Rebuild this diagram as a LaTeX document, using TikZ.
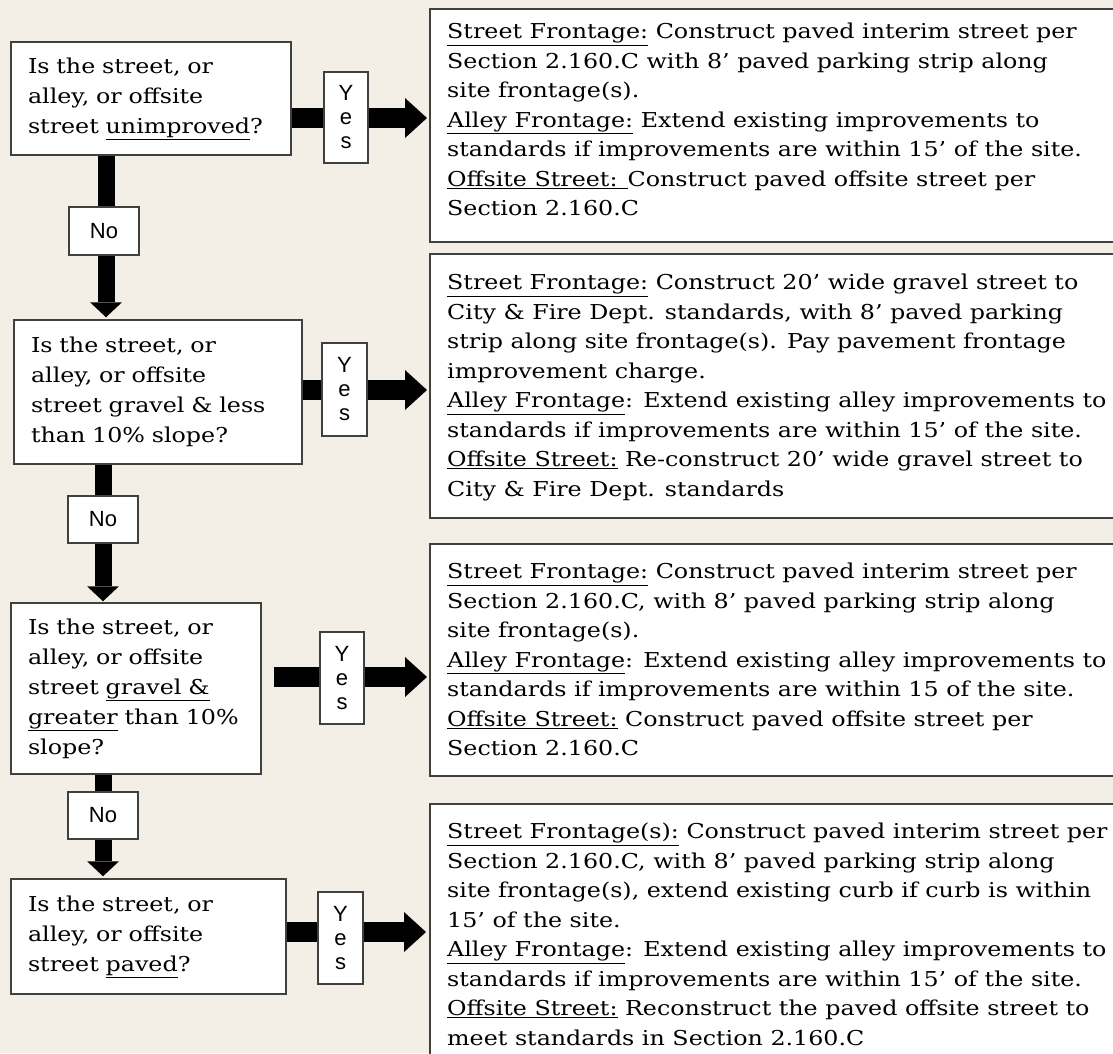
\documentclass[tikz,border=0pt]{standalone}
\usepackage{fontspec}
\usetikzlibrary{arrows.meta}
\newfontfamily\qfont[FakeStretch=1.16]{DejaVu Serif}
\newfontfamily\lfont{Liberation Sans}
\definecolor{bg}{HTML}{F3EEE6}
\definecolor{edge}{HTML}{404040}
\begin{document}
\begin{tikzpicture}[x=1pt,y=-1pt,
 qbox/.style={draw=edge, line width=1.5pt, fill=white, rectangle, align=left, inner xsep=17pt, font=\qfont\fontsize{20.5}{30}\selectfont},
 rbox/.style={draw=edge, line width=1.6pt, fill=white, rectangle, anchor=north west, inner sep=0pt},
 rtext/.style={anchor=north west, inner sep=0pt, align=left, font=\qfont\fontsize{20.5}{29.5}\selectfont},
 lbl/.style={draw=edge, line width=1.2pt, fill=white, font=\lfont\fontsize{22}{22}\selectfont, align=center, inner sep=0pt},
 yeslbl/.style={lbl, font=\lfont\fontsize{22}{24}\selectfont},
 harrow/.style={line width=20pt, -{Triangle[length=22pt,width=40pt,line width=0pt]}},
 varrow/.style={line width=17pt, -{Triangle[length=15pt,width=32pt,line width=0pt]}},
]
\useasboundingbox (0,0) rectangle (1113,1053);
\clip (0,0) rectangle (1113,1053);
\fill[bg] (0,0) rectangle (1113,1053);

% right boxes
\node[rbox, minimum width=700pt, minimum height=233pt] (r1) at (429,8) {};
\node[rbox, minimum width=700pt, minimum height=264pt] (r2) at (429,253) {};
\node[rbox, minimum width=700pt, minimum height=232pt] (r3) at (429,543) {};
\node[rbox, minimum width=700pt, minimum height=300pt] (r4) at (429,803) {};

\node[rtext] (r1t) at (447,23) {\underline{Street Frontage:} Construct paved interim street per\\
Section 2.160.C with 8’ paved parking strip along\\
site frontage(s).\\
\underline{Alley Frontage:} Extend existing improvements to\\
standards if improvements are within 15’ of the site.\\
\underline{Offsite Street: }Construct paved offsite street per\\
Section 2.160.C};

\node[rtext] (r2t) at (447,274) {\underline{Street Frontage:} Construct 20’ wide gravel street to\\
City \& Fire Dept. standards, with 8’ paved parking\\
strip along site frontage(s). Pay pavement frontage\\
improvement charge.\\
\underline{Alley Frontage}: Extend existing alley improvements to\\
standards if improvements are within 15’ of the site.\\
\underline{Offsite Street:} Re-construct 20’ wide gravel street to\\
City \& Fire Dept. standards};

\node[rtext] (r3t) at (447,563) {\underline{Street Frontage:} Construct paved interim street per\\
Section 2.160.C, with 8’ paved parking strip along\\
site frontage(s).\\
\underline{Alley Frontage}: Extend existing alley improvements to\\
standards if improvements are within 15 of the site.\\
\underline{Offsite Street:} Construct paved offsite street per\\
Section 2.160.C};

\node[rtext] (r4t) at (447,823) {\underline{Street Frontage(s):} Construct paved interim street per\\
Section 2.160.C, with 8’ paved parking strip along\\
site frontage(s), extend existing curb if curb is within\\
15’ of the site.\\
\underline{Alley Frontage}: Extend existing alley improvements to\\
standards if improvements are within 15’ of the site.\\
\underline{Offsite Street:} Reconstruct the paved offsite street to\\
meet standards in Section 2.160.C};

% question boxes
\node[qbox, minimum width=280pt, text width=246pt, minimum height=113pt] (q1) at (151,98.5)
 {Is the street, or\\ alley, or offsite\\ street \underline{unimproved}?};
\node[qbox, minimum width=288pt, text width=254pt, minimum height=144pt] (q2) at (158,392)
 {Is the street, or\\ alley, or offsite\\ street gravel \& less\\ than 10\% slope?};
\node[qbox, minimum width=250pt, text width=216pt, minimum height=171pt] (q3) at (136,688.5)
 {Is the street, or\\ alley, or offsite\\ \mbox{street \underline{gravel \&}}\\ \mbox{\underline{greater} than 10\%}\\ slope?};
\node[qbox, minimum width=275pt, text width=241pt, minimum height=115pt] (q4) at (148.5,936.5)
 {Is the street, or\\ alley, or offsite\\ street \underline{paved}?};

% arrows
\coordinate (h1) at (0,118);
\coordinate (h2) at (0,390);
\coordinate (h3) at (0,677);
\coordinate (h4) at (0,932);
\coordinate (v1) at (106,0);
\coordinate (v2) at (103,0);
\coordinate (v3) at (103,0);
\draw[harrow, shorten >=2pt] (q1.east |- h1) -- (r1.west |- h1);
\draw[harrow, shorten >=2pt] (q2.east |- h2) -- (r2.west |- h2);
\draw[harrow, shorten <=12pt, shorten >=2pt] (q3.east |- h3) -- (r3.west |- h3);
\draw[harrow, shorten >=3pt] (q4.east |- h4) -- (r4.west |- h4);
\draw[varrow, shorten >=2pt] (q1.south -| v1) -- (q2.north -| v1);
\draw[varrow, shorten >=1pt] (q2.south -| v2) -- (q3.north -| v2);
\draw[varrow, shorten >=2pt] (q3.south -| v3) -- (q4.north -| v3);

% labels
\node[yeslbl, minimum width=44pt, minimum height=91pt] (y1) at (346,117.5) {Y\\e\\s};
\node[yeslbl, minimum width=45pt, minimum height=93pt] (y2) at (344.5,389.5) {Y\\e\\s};
\node[yeslbl, minimum width=44pt, minimum height=92pt] (y3) at (342,678) {Y\\e\\s};
\node[yeslbl, minimum width=45pt, minimum height=92pt] (y4) at (340.5,938) {Y\\e\\s};
\node[lbl, minimum width=70pt, minimum height=48pt] (n1) at (104,231) {No};
\node[lbl, minimum width=70pt, minimum height=47pt] (n2) at (103,519.5) {No};
\node[lbl, minimum width=70pt, minimum height=47pt] (n3) at (103,815.5) {No};
\end{tikzpicture}
\end{document}
